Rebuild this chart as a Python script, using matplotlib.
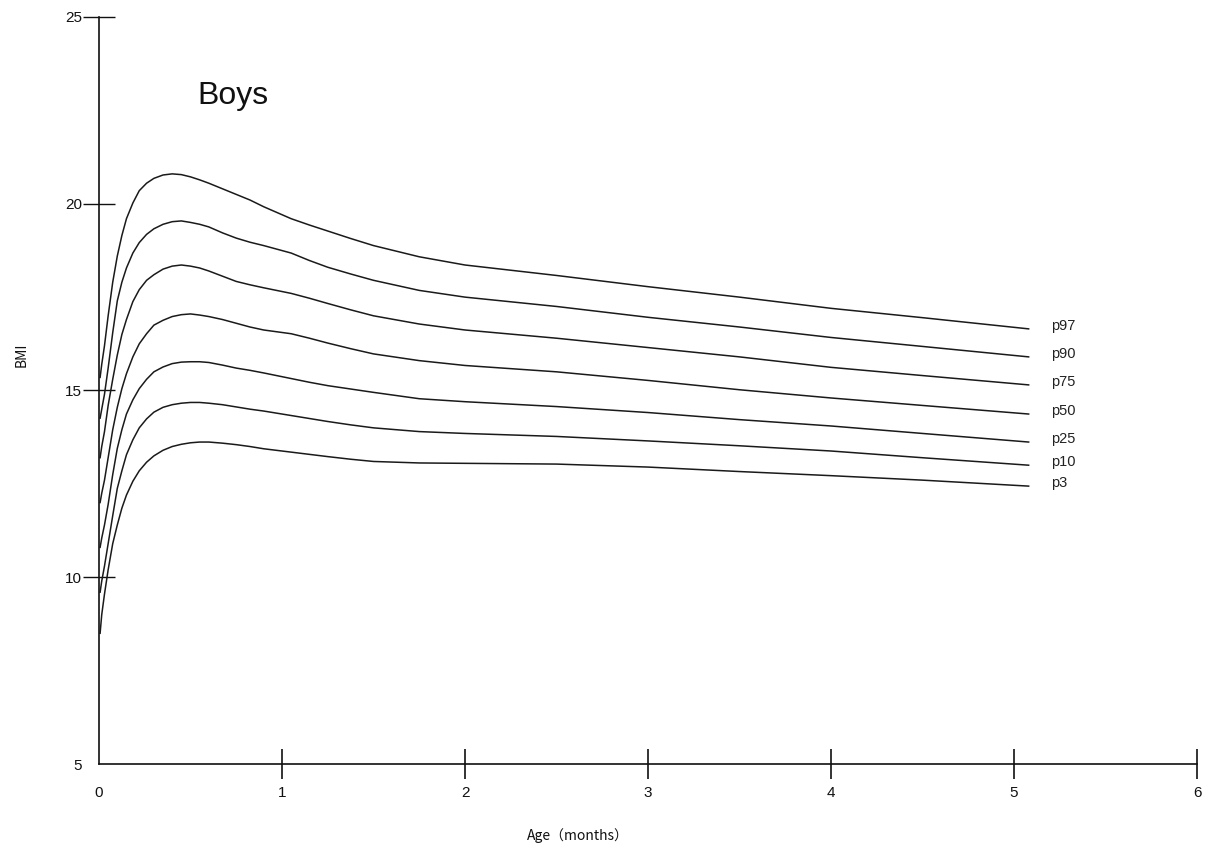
import matplotlib
matplotlib.use("Agg")
import matplotlib.pyplot as plt

# age points (x axis) shared by all percentile curves
age = [0.006, 0.015, 0.03, 0.05, 0.075, 0.1, 0.125, 0.15, 0.185, 0.22, 0.26, 0.3,
       0.35, 0.4, 0.45, 0.5, 0.55, 0.6, 0.675, 0.75, 0.825, 0.9, 1.05, 1.15,
       1.25, 1.375, 1.5, 1.75, 2.0, 2.5, 3.0, 3.5, 4.0, 4.5, 5.08]

# BMI percentile curves
p97 = [15.35, 15.7, 16.2, 17.0, 17.9, 18.6, 19.15, 19.6, 20.02, 20.35, 20.55, 20.68,
       20.77, 20.80, 20.78, 20.72, 20.64, 20.55, 20.4, 20.25, 20.1, 19.92, 19.6, 19.43,
       19.27, 19.07, 18.88, 18.58, 18.36, 18.08, 17.78, 17.5, 17.2, 16.95, 16.65]
p90 = [14.26, 14.5, 14.9, 15.6, 16.55, 17.4, 17.9, 18.28, 18.68, 18.96, 19.18, 19.33,
       19.45, 19.52, 19.54, 19.5, 19.45, 19.38, 19.22, 19.08, 18.97, 18.88, 18.68, 18.48,
       18.3, 18.12, 17.95, 17.68, 17.5, 17.25, 16.96, 16.7, 16.42, 16.18, 15.9]
p75 = [13.2, 13.5, 13.9, 14.6, 15.3, 15.95, 16.5, 16.9, 17.38, 17.7, 17.95, 18.1,
       18.25, 18.33, 18.36, 18.33, 18.28, 18.2, 18.06, 17.92, 17.83, 17.75, 17.6, 17.47,
       17.33, 17.16, 17.0, 16.78, 16.62, 16.4, 16.15, 15.9, 15.62, 15.4, 15.15]
p50 = [12.0, 12.25, 12.6, 13.2, 13.95, 14.55, 15.05, 15.45, 15.9, 16.25, 16.52, 16.75,
       16.88, 16.98, 17.03, 17.05, 17.02, 16.98, 16.9, 16.8, 16.7, 16.62, 16.52, 16.4,
       16.27, 16.12, 15.98, 15.8, 15.67, 15.5, 15.27, 15.02, 14.8, 14.6, 14.37]
p25 = [10.8, 11.05, 11.4, 11.95, 12.75, 13.45, 13.95, 14.37, 14.75, 15.05, 15.3, 15.5,
       15.63, 15.72, 15.76, 15.77, 15.77, 15.75, 15.68, 15.6, 15.54, 15.47, 15.32, 15.22,
       15.13, 15.04, 14.95, 14.78, 14.7, 14.57, 14.41, 14.22, 14.05, 13.85, 13.62]
p10 = [9.6, 9.9, 10.3, 10.9, 11.65, 12.38, 12.85, 13.28, 13.68, 14.0, 14.24, 14.42,
       14.55, 14.62, 14.66, 14.68, 14.68, 14.66, 14.62, 14.56, 14.5, 14.45, 14.33, 14.25,
       14.17, 14.08, 14.0, 13.9, 13.85, 13.77, 13.65, 13.52, 13.38, 13.2, 13.0]
p3 = [8.5, 9.0, 9.55, 10.2, 10.9, 11.4, 11.85, 12.2, 12.57, 12.85, 13.08, 13.25,
      13.4, 13.5, 13.56, 13.6, 13.62, 13.62, 13.59, 13.55, 13.5, 13.44, 13.35, 13.29,
      13.23, 13.16, 13.1, 13.06, 13.05, 13.03, 12.95, 12.83, 12.72, 12.6, 12.44]

curve_names = ["p97", "p90", "p75", "p50", "p25", "p10", "p3"]
curves = [p97, p90, p75, p50, p25, p10, p3]

x_ticks = [0, 1, 2, 3, 4, 5, 6]
y_ticks = [5, 10, 15, 20, 25]

fig = plt.figure(figsize=(12.05, 8.47), dpi=100)
ax = fig.add_axes([99 / 1205, 1 - 764 / 847, 1098 / 1205, 747 / 847])

for name, vals in zip(curve_names, curves):
    ax.plot(age, vals, color="#1a1a1a", linewidth=1.1, solid_joinstyle="round")
    ax.text(age[-1] + 0.12, vals[-1] + 0.08, name, fontsize=10.5,
            family="Liberation Sans", ha="left", va="center", color="#222222")

ax.set_xlim(0, 6)
ax.set_ylim(5, 25)
ax.set_xticks(x_ticks)
ax.set_yticks(y_ticks)
ax.set_xticklabels([str(v) for v in x_ticks], family="Liberation Sans", fontsize=11)
ax.set_yticklabels([str(v) for v in y_ticks], family="Liberation Sans", fontsize=11)

for side in ["top", "right"]:
    ax.spines[side].set_visible(False)
for side in ["left", "bottom"]:
    ax.spines[side].set_linewidth(1.2)
    ax.spines[side].set_color("#111111")

ax.tick_params(axis="x", direction="inout", length=22, width=1.2, pad=4.5, colors="#111111")
ax.tick_params(axis="y", direction="inout", length=23, width=1.0, pad=0.8, colors="#111111")
# no tick marks at the origin, only the labels
ax.xaxis.get_major_ticks()[0].tick1line.set_visible(False)
ax.yaxis.get_major_ticks()[0].tick1line.set_visible(False)

ax.text(0.54, 22.67, "Boys", fontsize=23, family="Liberation Sans",
        ha="left", va="baseline", color="#111111")

fig.text(22 / 1205, 1 - 355 / 847, "BMI", rotation=90, ha="center", va="center",
         fontsize=10, family=["Noto Sans CJK JP", "DejaVu Sans"], color="#111111")
fig.text(578 / 1205, 1 - 836 / 847, "Age（months）", ha="center", va="center",
         fontsize=10, family=["Noto Sans CJK JP", "DejaVu Sans"], color="#111111")

fig.savefig("out.png", dpi=100)
